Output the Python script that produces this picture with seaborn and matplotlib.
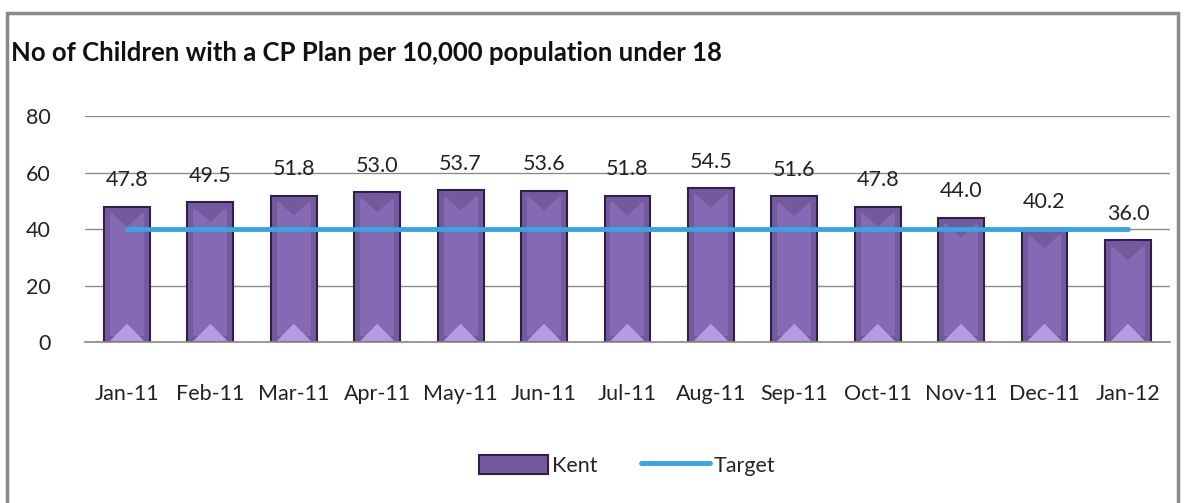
import matplotlib
matplotlib.use("Agg")
import matplotlib.pyplot as plt
import seaborn as sns
import pandas as pd
from matplotlib.patches import Rectangle, Polygon

months = ["Jan-11", "Feb-11", "Mar-11", "Apr-11", "May-11", "Jun-11", "Jul-11",
          "Aug-11", "Sep-11", "Oct-11", "Nov-11", "Dec-11", "Jan-12"]
kent = [47.8, 49.5, 51.8, 53.0, 53.7, 53.6, 51.8, 54.5, 51.6, 47.8, 44.0, 40.2, 36.0]
target = [40] * 13
yticks = [0, 20, 40, 60, 80]
title = "No of Children with a CP Plan per 10,000 population under 18"

sns.set_theme(style="white")
plt.rcParams['font.family'] = ['Lato', 'DejaVu Sans']

df = pd.DataFrame({"Month": months, "Kent": kent, "Target": target})

fig = plt.figure(figsize=(11.85, 5.03), dpi=100)
ax = fig.add_axes([0.072, 0.32, 0.915, 0.449])

sns.barplot(data=df, x="Month", y="Kent", color="#74599E", width=0.55,
            edgecolor="#2E2046", linewidth=1.5, saturation=1, ax=ax, label="Kent", zorder=2)

# bevel decoration derived from the drawn bar geometry
for p in list(ax.patches):
    x0, w, h = p.get_x(), p.get_width(), p.get_height()
    ix = w * 0.13
    ax.add_patch(Rectangle((x0 + ix, 2.2), w - 2 * ix, h - 4.4, facecolor="#8469B3",
                           edgecolor="none", zorder=2.1))
    ax.add_patch(Polygon([(x0 + ix, 0.4), (x0 + w - ix, 0.4), (x0 + w / 2, 6.5)],
                         closed=True, facecolor="#B59BE0", edgecolor="none", zorder=2.2))
    ax.add_patch(Polygon([(x0 + ix, h - 1.5), (x0 + w - ix, h - 1.5), (x0 + w / 2, h - 7)],
                         closed=True, facecolor="#735A9C", edgecolor="none", zorder=2.2))

sns.lineplot(data=df, x="Month", y="Target", color="#3BA3E0", linewidth=3.5,
             ax=ax, label="Target", zorder=3, sort=False)

for i, v in enumerate(kent):
    ax.annotate(f"{v:.1f}", (i, v), xytext=(0, 12), textcoords="offset points",
                ha="center", va="bottom", fontsize=15.5, color="#222222")

ax.set_ylim(0, 80)
ax.set_yticks(yticks)
ax.set_xlim(-0.5, len(months) - 0.5)
ax.grid(axis="y", color="#8c8c8c", linewidth=1, zorder=0)
ax.set_axisbelow(True)
for s in ["top", "right", "left"]:
    ax.spines[s].set_visible(False)
ax.spines["bottom"].set_color("#8c8c8c")
ax.set_xlabel("")
ax.set_ylabel("")
ax.tick_params(axis="both", labelsize=15.5, colors="#222222", length=0)
ax.tick_params(axis="x", pad=30)
ax.tick_params(axis="y", pad=25)

handles, labels = ax.get_legend_handles_labels()
order = [labels.index("Kent"), labels.index("Target")]
ax.legend([handles[k] for k in order], [labels[k] for k in order],
          loc="center", bbox_to_anchor=(0.5, -0.545), ncol=2, frameon=False,
          fontsize=15.5, handlelength=3.2, handleheight=1.0, columnspacing=2.0, handletextpad=0.2)

fig.text(0.009, 0.895, title, fontsize=18.5, fontweight="bold", color="#111111", va="center")
fig.patches.append(Rectangle((0.006, -0.01), 0.988, 0.985, transform=fig.transFigure,
                             fill=False, edgecolor="#8a8a8a", linewidth=2.5))

fig.savefig("out.png", dpi=100)
